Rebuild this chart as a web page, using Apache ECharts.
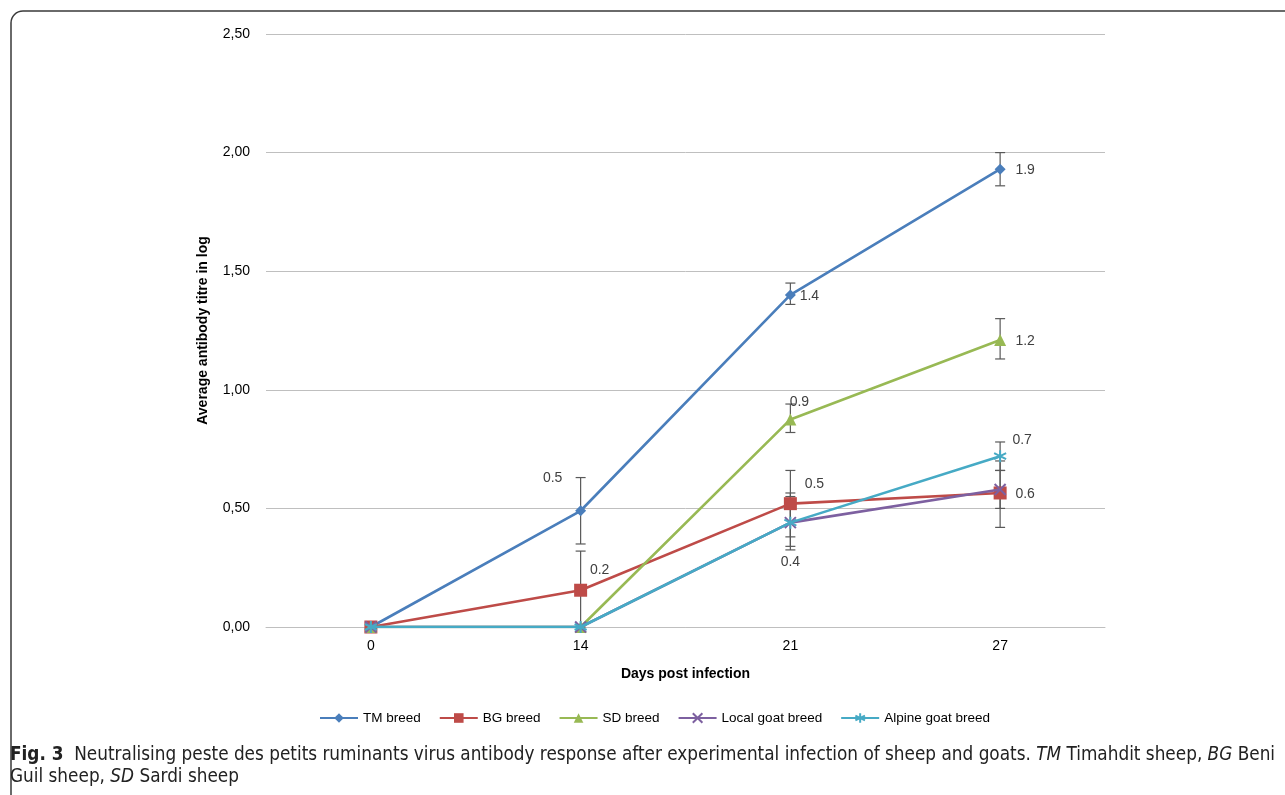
<!DOCTYPE html>
<html>
<head>
<meta charset="utf-8">
<script src="https://cdn.jsdelivr.net/npm/echarts@6/dist/echarts.min.js"></script>
<style>
html,body{margin:0;padding:0;background:#fff;}
#chart{width:1285px;height:795px;}
</style>
</head>
<body>
<div id="chart"></div>
<script>
// ---------- data ----------
const categories = ['0', '14', '21', '27'];
const seriesNames = ['TM breed', 'BG breed', 'SD breed', 'Local goat breed', 'Alpine goat breed'];

const tmValues     = [0, 0.49, 1.40, 1.93];
const bgValues     = [0, 0.155, 0.52, 0.565];
const sdValues     = [0, 0, 0.875, 1.21];
const localValues  = [0, 0, 0.44, 0.58];
const alpineValues = [0, 0, 0.44, 0.72];

// error bars: [low, high] per category (null = none)
const tmErr     = [null, [0.35, 0.63], [1.36, 1.45], [1.86, 2.00]];
const bgErr     = [null, [0.00, 0.32], [0.38, 0.66], [0.42, 0.70]];
const sdErr     = [null, null, [0.82, 0.94], [1.13, 1.30]];
const localErr  = [null, null, [0.34, 0.55], [0.50, 0.66]];
const alpineErr = [null, null, [0.325, 0.565], [0.66, 0.78]];

// data label texts
const tmLabels     = [null, '0.5', '1.4', '1.9'];
const bgLabels     = [null, '0.2', '0.5', '0.6'];
const sdLabels     = [null, null, '0.9', '1.2'];
const localLabels  = [null, null, null, null];
const alpineLabels = [null, null, '0.4', '0.7'];

const yTicks = [0, 0.5, 1.0, 1.5, 2.0, 2.5];

// ---------- styles ----------
const colors = ['#4a7ebb', '#be4b48', '#98b954', '#7d60a0', '#46aac5'];
const symbols = [
  'diamond', 'rect', 'triangle',
  'path://M-1,-1L1,1M-1,1L1,-1',
  'path://M0,-1L0,1M-0.87,-0.5L0.87,0.5M-0.87,0.5L0.87,-0.5'
];
const symbolSizes = [11, 13, 12, 11, 12];
const labelOffsets = [
  [null, [-28, -33], [19, 1], [25, 1]],
  [null, [19, -20], [24, -20], [25, 1]],
  [null, null, [9, -17], [25, 1]],
  [null, null, null, null],
  [null, null, [0, 40], [22, -16]]
];
const FONT = '"Liberation Sans", Arial, sans-serif';
const CAPFONT = '"Liberation Sans Narrow", "DejaVu Sans Condensed", "Roboto Condensed", sans-serif';

const allValues = [tmValues, bgValues, sdValues, localValues, alpineValues];
const allErr = [tmErr, bgErr, sdErr, localErr, alpineErr];
const allLabels = [tmLabels, bgLabels, sdLabels, localLabels, alpineLabels];

const series = [];

// error bar series (drawn behind)
allErr.forEach((errs, si) => {
  const d = [];
  errs.forEach((e, ci) => { if (e) d.push([ci, e[0], e[1]]); });
  series.push({
    type: 'custom',
    name: 'err' + si,
    z: 1,
    silent: true,
    renderItem: function (params, api) {
      const x = api.value(0);
      const lo = api.coord([x, api.value(1)]);
      const hi = api.coord([x, api.value(2)]);
      const hw = 5;
      const st = { stroke: '#595959', lineWidth: 1.2 };
      return {
        type: 'group',
        children: [
          { type: 'line', shape: { x1: lo[0], y1: lo[1], x2: hi[0], y2: hi[1] }, style: st },
          { type: 'line', shape: { x1: lo[0] - hw, y1: lo[1], x2: lo[0] + hw, y2: lo[1] }, style: st },
          { type: 'line', shape: { x1: hi[0] - hw, y1: hi[1], x2: hi[0] + hw, y2: hi[1] }, style: st }
        ]
      };
    },
    encode: { x: 0, y: [1, 2] },
    data: d
  });
});

allValues.forEach((vals, si) => {
  const isStroke = si >= 3;
  series.push({
    type: 'line',
    name: seriesNames[si],
    z: 3 + si,
    symbol: symbols[si],
    symbolSize: symbolSizes[si],
    showAllSymbol: true,
    lineStyle: { color: colors[si], width: 2.6 },
    itemStyle: isStroke
      ? { color: colors[si], borderColor: colors[si], borderWidth: 2 }
      : { color: colors[si], borderWidth: 0 },
    emphasis: { disabled: true },
    data: vals.map((v, ci) => {
      const t = allLabels[si][ci];
      const item = { value: v };
      if (t) {
        item.label = {
          show: true,
          position: 'inside',
          offset: labelOffsets[si][ci],
          formatter: t,
          color: '#404040',
          fontSize: 14,
          fontFamily: FONT
        };
      }
      return item;
    })
  });
});

const chart = echarts.init(document.getElementById('chart'), null, { renderer: 'canvas' });
chart.setOption({
  animation: false,
  backgroundColor: '#fff',
  color: colors,
  grid: { left: 266, right: 180, top: 34, bottom: 168, containLabel: false },
  xAxis: {
    type: 'category',
    data: categories,
    boundaryGap: true,
    name: 'Days post infection',
    nameLocation: 'middle',
    nameGap: 40,
    nameTextStyle: { fontFamily: FONT, fontWeight: 'bold', fontSize: 14, color: '#000' },
    axisLine: { show: true, lineStyle: { color: '#bfbfbf', width: 1 } },
    axisTick: { show: false },
    axisLabel: { fontFamily: FONT, fontSize: 14, color: '#000', margin: 12 }
  },
  yAxis: {
    type: 'value',
    min: yTicks[0],
    max: yTicks[yTicks.length - 1],
    interval: 0.5,
    name: 'Average antibody titre in log',
    nameLocation: 'middle',
    nameGap: 56,
    nameTextStyle: { fontFamily: FONT, fontWeight: 'bold', fontSize: 14, color: '#000' },
    axisLine: { show: false },
    axisTick: { show: false },
    axisLabel: {
      fontFamily: FONT, fontSize: 14, color: '#000', margin: 16,
      formatter: v => v.toFixed(2).replace('.', ',')
    },
    splitLine: { lineStyle: { color: '#bfbfbf', width: 1 } }
  },
  legend: {
    data: seriesNames,
    left: 314,
    top: 706,
    itemWidth: 38,
    itemHeight: 12,
    itemGap: 18,
    textStyle: { fontFamily: FONT, fontSize: 13.5, color: '#000' }
  },
  graphic: [
    {
      type: 'rect',
      silent: true,
      shape: { x: 11, y: 11, width: 1300, height: 820, r: 12 },
      style: { fill: 'none', stroke: '#3a3a3a', lineWidth: 1.5 }
    },
    {
      type: 'text',
      left: 10,
      top: 744,
      style: {
        text: '{b|Fig. 3}  Neutralising peste des petits ruminants virus antibody response after experimental infection of sheep and goats. {i|TM} Timahdit sheep, {i|BG} Beni\nGuil sheep, {i|SD} Sardi sheep',
        font: '18.8px ' + CAPFONT,
        fill: '#222',
        lineHeight: 22,
        rich: {
          b: { fontWeight: 'bold', fontSize: 18.8, fill: '#222', fontFamily: CAPFONT },
          i: { fontStyle: 'italic', fontSize: 18.8, fill: '#222', fontFamily: CAPFONT }
        }
      }
    }
  ],
  series: series
});
</script>
</body>
</html>
